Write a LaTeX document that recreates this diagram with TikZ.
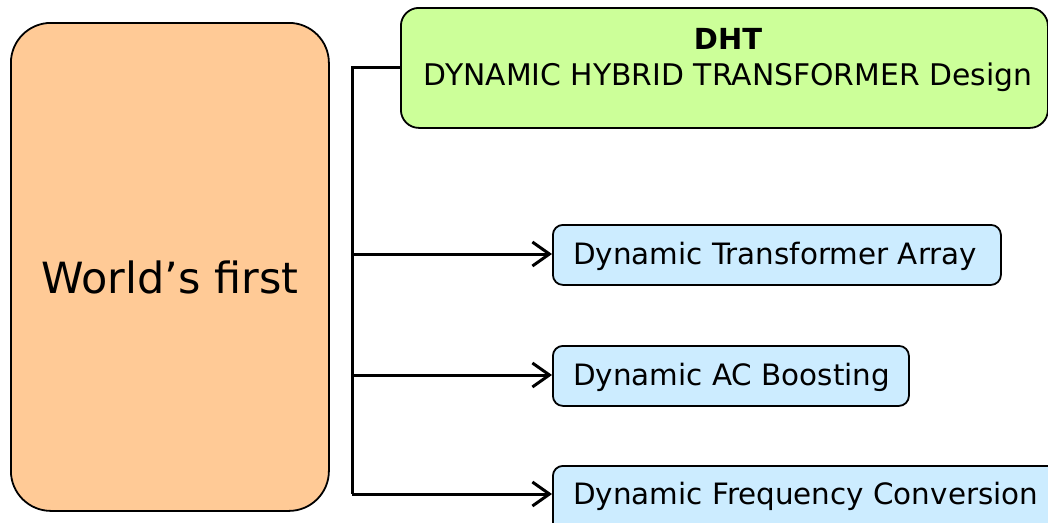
\documentclass[tikz,border=0pt]{standalone}
\usepackage{fontspec}
\setmainfont{DejaVu Sans}
\usetikzlibrary{arrows.meta}
\definecolor{peach}{HTML}{FFCA96}
\definecolor{lgreen}{HTML}{CCFF99}
\definecolor{lblue}{HTML}{CCECFF}
\tikzset{
  box/.style={draw=black, line width=1.8pt, inner sep=0pt, anchor=north west},
  conn/.style={line width=3pt},
  arr/.style={conn, -{Straight Barb[length=17pt,width=24pt,line width=3pt]}},
  itemtxt/.style={font=\fontsize{29.4}{34}\selectfont, inner sep=0pt}
}
\begin{document}
\begin{tikzpicture}[x=1pt,y=-1pt]
\useasboundingbox (0,0) rectangle (1048,522);
\clip (0,0) rectangle (1048,522);
\node[box, fill=peach, rounded corners=40pt, minimum width=318pt, minimum height=488pt] (world) at (10,22) {};
\node[font=\fontsize{43}{48}\selectfont, inner sep=0pt, anchor=base] (worldtxt) at (170,293) {World’s first};
\node[box, fill=lgreen, rounded corners=18pt, minimum width=647pt, minimum height=120pt] (dht) at (400,7) {};
\node[font=\bfseries\fontsize{29}{33}\selectfont, inner sep=0pt, anchor=base] (dhttitle) at (728,49) {DHT};
\node[font=\fontsize{29.8}{34}\selectfont, inner sep=0pt, anchor=base] (dhtsub) at (728,85) {DYNAMIC HYBRID TRANSFORMER Design};
\node[box, fill=lblue, rounded corners=10pt, minimum width=448pt, minimum height=60pt] (b1) at (552,224) {};
\node[itemtxt, anchor=base west] (t1) at (573,264) {Dynamic Transformer Array};
\node[box, fill=lblue, rounded corners=10pt, minimum width=356pt, minimum height=60pt] (b2) at (552,345) {};
\node[itemtxt, anchor=base west] (t2) at (573,385) {Dynamic AC Boosting};
\node[box, fill=lblue, rounded corners=10pt, minimum width=520pt, minimum height=70pt] (b3) at (552,465) {};
\node[itemtxt, anchor=base west] (t3) at (573,504) {Dynamic Frequency Conversion};
\coordinate (top) at (352,67);
\coordinate (j1) at (352,254);
\coordinate (j2) at (352,375);
\coordinate (j3) at (352,494);
\draw[conn] (dht.west |- top) -- (top) -- (j3);
\draw[arr] (j1) -- (b1.west |- j1);
\draw[arr] (j2) -- (b2.west |- j2);
\draw[arr] (j3) -- (b3.west |- j3);
\end{tikzpicture}
\end{document}
